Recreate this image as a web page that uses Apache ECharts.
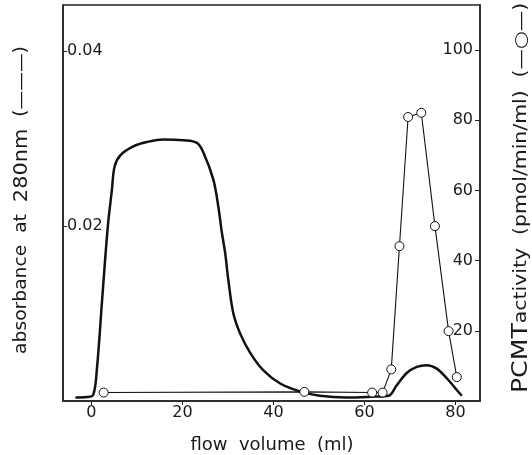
<!DOCTYPE html>
<html>
<head>
<meta charset="utf-8">
<script src="https://cdn.jsdelivr.net/npm/echarts@6/dist/echarts.min.js"></script>
<style>
html,body{margin:0;padding:0;background:#fff;}
#c{width:532px;height:455px;}
</style>
</head>
<body>
<div id="c"></div>
<script>
// Absorbance at 280 nm (thick line)
const absX = [-3.5, -1, 0.4, 1.25, 2.35, 3.6, 4.5, 5.1, 6.4, 9.2, 12.2, 15.8, 20.2, 23.2, 24.7, 26.8, 27.9, 28.6, 29.4, 30.1, 31.2, 32.7, 34.9, 37.8, 41.5, 45.8, 50.2, 56, 62, 65.3, 67.1, 69.3, 71.5, 73.7, 75.9, 78.1, 79.9, 81.4];
const absY = [0.0004, 0.00045, 0.0007, 0.0039, 0.0115, 0.0199, 0.0241, 0.0268, 0.0281, 0.0291, 0.0296, 0.0299, 0.0298, 0.0295, 0.0283, 0.0253, 0.0222, 0.0195, 0.0169, 0.0138, 0.0100, 0.0077, 0.0055, 0.0035, 0.0020, 0.0011, 0.0006, 0.0004, 0.0005, 0.0006, 0.0018, 0.0032, 0.0039, 0.0041, 0.0037, 0.0026, 0.0015, 0.0006];
// PCMT activity (open circles)
const pcmtX = [2.7, 46.8, 61.7, 64.0, 65.9, 67.7, 69.6, 72.5, 75.5, 78.5, 80.3];
const pcmtY = [2.4, 2.6, 2.4, 2.4, 9.0, 44.1, 80.9, 82.1, 49.8, 19.9, 6.8];
// Tick labels
const xTicks = [0, 20, 40, 60, 80];
const leftTicks = [0.02, 0.04];
const rightTicks = [20, 40, 60, 80, 100];

const FONT = 'DejaVu Sans';
const INK = '#1a1a1a';

const chart = echarts.init(document.getElementById('c'), null, {renderer: 'canvas'});
chart.setOption({
  animation: false,
  backgroundColor: '#fff',
  grid: {left: 63, right: 52, top: 5, bottom: 54, show: true, borderColor: '#222', borderWidth: 1.5},
  xAxis: {
    type: 'value', min: -6.24, max: 85.4,
    splitLine: {show: false},
    axisLine: {onZero: false, lineStyle: {color: '#222', width: 1.5}},
    axisTick: {customValues: xTicks, length: 4, lineStyle: {color: '#222'}},
    axisLabel: {customValues: xTicks, fontFamily: FONT, fontSize: 16, color: INK, margin: 4}
  },
  yAxis: [{
    type: 'value', min: 0, max: 0.04526, position: 'left',
    splitLine: {show: false},
    axisLine: {show: true, onZero: false, lineStyle: {color: '#222', width: 1.5}},
    axisTick: {inside: true, customValues: leftTicks, length: 4, lineStyle: {color: '#222'}},
    axisLabel: {inside: true, customValues: leftTicks, fontFamily: FONT, fontSize: 16, color: INK, margin: 4,
      formatter: v => v.toFixed(2)}
  }, {
    type: 'value', min: 0, max: 112.8, position: 'right',
    splitLine: {show: false},
    axisLine: {show: true, onZero: false, lineStyle: {color: '#222', width: 1.5}},
    axisTick: {inside: true, customValues: rightTicks, length: 5, lineStyle: {color: '#222'}},
    axisLabel: {inside: true, customValues: rightTicks, fontFamily: FONT, fontSize: 16, color: INK, margin: 7}
  }],
  series: [{
    type: 'line', yAxisIndex: 0,
    data: absX.map((x, i) => [x, absY[i]]),
    smooth: 0.35,
    showSymbol: false, symbol: 'none',
    lineStyle: {color: '#111', width: 2.5},
    z: 2
  }, {
    type: 'line', yAxisIndex: 1,
    data: pcmtX.map((x, i) => [x, pcmtY[i]]),
    symbol: 'circle', symbolSize: 9,
    itemStyle: {color: '#fff', borderColor: '#111', borderWidth: 1},
    lineStyle: {color: '#111', width: 1.1},
    z: 3
  }],
  graphic: [{
    type: 'text', x: 22, y: 200, rotation: Math.PI / 2, scaleX: 1.1,
    style: {
      text: '{a|absorbance  at  }{b|280nm}{a|  (———)}',
      align: 'center', verticalAlign: 'middle', fill: INK,
      rich: {
        a: {fontFamily: FONT, fontSize: 17, fill: INK},
        b: {fontFamily: FONT, fontSize: 19, fill: INK}
      }
    }
  }, {
    type: 'text', x: 522, y: 198, rotation: Math.PI / 2, scaleX: 1.2,
    style: {
      text: '{a|PCMT}{b|activity  (pmol/min/ml)  (—○—)}',
      align: 'center', verticalAlign: 'middle', fill: INK,
      rich: {
        a: {fontFamily: FONT, fontSize: 21, fill: INK},
        b: {fontFamily: FONT, fontSize: 17, fill: INK}
      }
    }
  }, {
    type: 'text', x: 272, y: 445,
    style: {
      text: 'flow  volume  (ml)', align: 'center', verticalAlign: 'middle',
      fontFamily: FONT, fontSize: 18, fill: INK
    }
  }]
});
</script>
</body>
</html>
